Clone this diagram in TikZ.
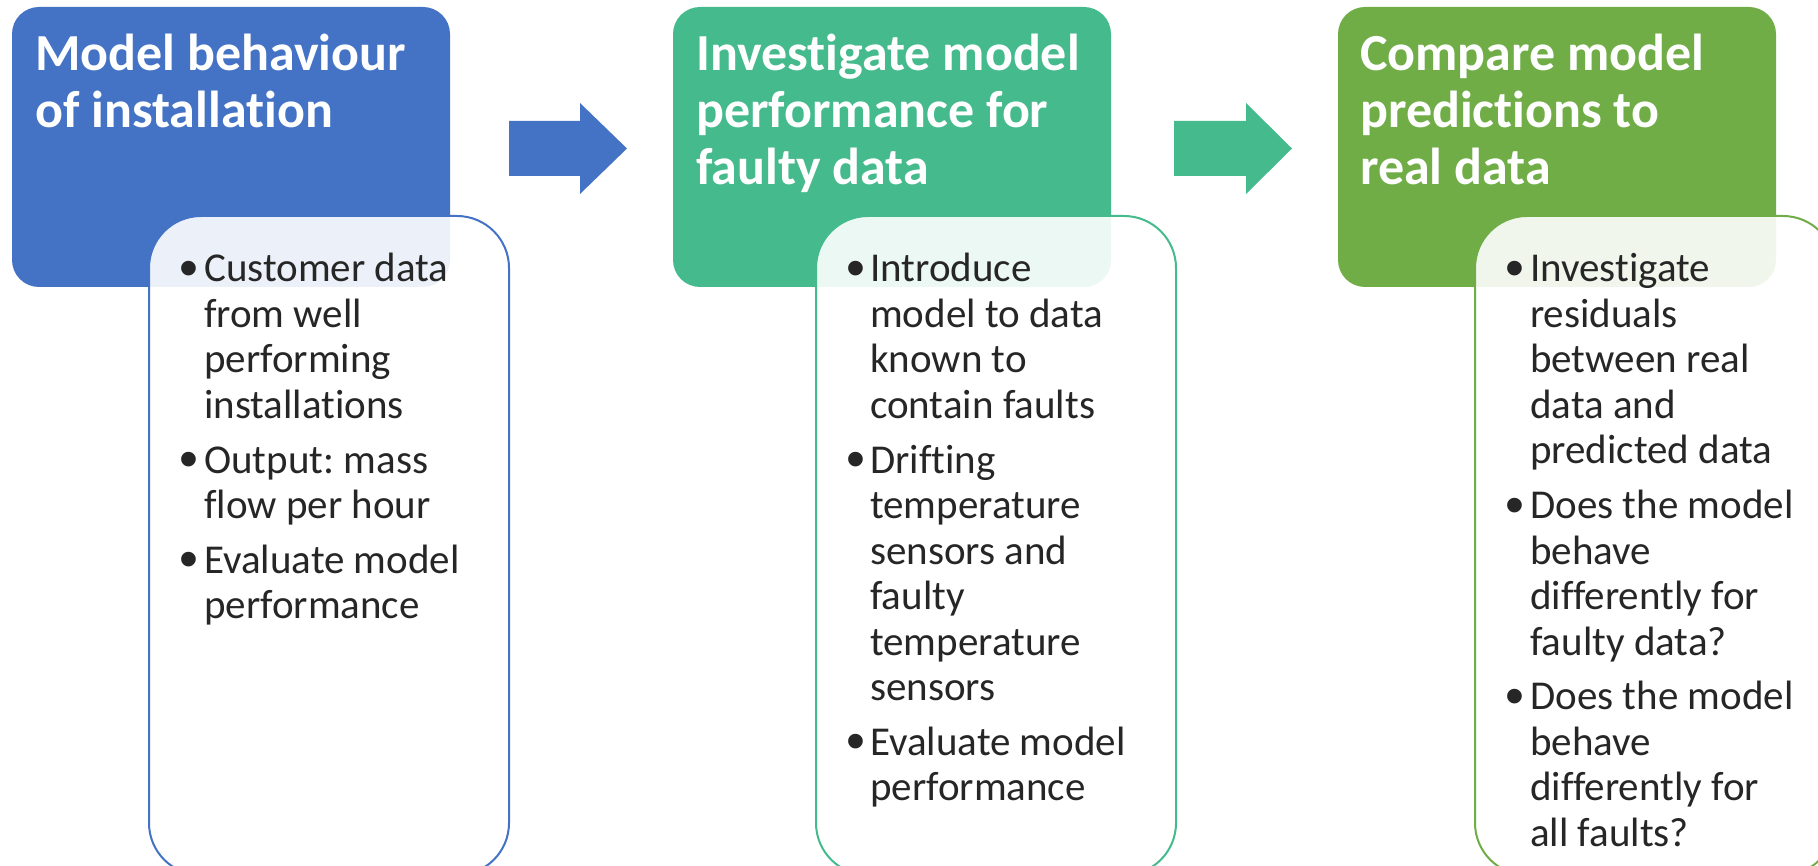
\documentclass[tikz,border=0pt]{standalone}
\usepackage{fontspec}
\setmainfont[Ligatures=NoCommon, Contextuals=NoAlternate, RawFeature=-clig]{Carlito}
\newfontfamily\dotfont{Liberation Sans}
\frenchspacing
\definecolor{cblue}{HTML}{4472C4}
\definecolor{cteal}{HTML}{45BA8D}
\definecolor{cgreen}{HTML}{70AD47}
\definecolor{ink}{HTML}{262626}
\tikzset{
  headbox/.style={rounded corners=27pt, minimum width=438pt, minimum height=280pt, inner sep=0pt},
  listbox/.style={rounded corners=52pt, minimum width=360pt, minimum height=659pt, inner sep=0pt,
    line width=2pt, fill=white, fill opacity=0.9},
  headtxt/.style={font=\fontsize{52}{57}\selectfont\bfseries, text=white, anchor=base west, inner sep=0pt},
  txt/.style={font=\fontsize{41}{45.5}\selectfont, text=ink, anchor=base west, inner sep=0pt},
  dot/.style={font=\dotfont\fontsize{54}{54}\selectfont, text=ink, anchor=base west, inner sep=0pt, yshift=-4.5pt},
}
\newcommand\putline[4]{\node[txt] (#1) at (#2,#3) {#4};}
\newcommand\putdot[3]{\node[dot] (#1) at (#2,#3) {•};}
\begin{document}
\begin{tikzpicture}[x=1pt,y=-1pt]
\useasboundingbox (0,0) rectangle (1818,866);
\clip (0,0) rectangle (1818,866);

% heading boxes
\node[headbox, fill=cblue]  (head1) at (231,147)  {};
\node[headbox, fill=cteal]  (head2) at (892,147)  {};
\node[headbox, fill=cgreen] (head3) at (1557,147) {};

% block arrows between the stages
\coordinate (a1) at (509,121);
\fill[cblue] (a1) -- ++(71,0) -- ++(0,-18) -- ++(47,45.5) -- ++(-47,45.5) -- ++(0,-18) -- ++(-71,0) -- cycle;
\coordinate (a2) at (1174,121);
\fill[cteal] (a2) -- ++(72,0) -- ++(0,-18) -- ++(46,45.5) -- ++(-46,45.5) -- ++(0,-18) -- ++(-72,0) -- cycle;

% heading texts
\node[headtxt] (h1a) at (35,71)  {Model behaviour};
\node[headtxt] (h1b) at (35,128) {of installation};
\node[headtxt] (h2a) at (696,71)  {Investigate model};
\node[headtxt] (h2b) at (696,128) {performance for};
\node[headtxt] (h2c) at (696,185) {faulty data};
\node[headtxt] (h3a) at (1360,71)  {Compare model};
\node[headtxt] (h3b) at (1360,128) {predictions to};
\node[headtxt] (h3c) at (1360,185) {real data};

% bullet boxes
\node[listbox, draw=cblue]  (list1) at (329,545.5)  {};
\node[listbox, draw=cteal]  (list2) at (996,545.5)  {};
\node[listbox, draw=cgreen] (list3) at (1655,545.5) {};

% first list
\putdot{d1a}{179}{282}
\putline{l1a}{204}{282}{Customer data}
\putline{l1b}{204}{327.5}{from well}
\putline{l1c}{204}{373}{performing}
\putline{l1d}{204}{418.5}{installations}
\putdot{d1b}{179}{473}
\putline{l1e}{204}{473}{Output: mass}
\putline{l1f}{204}{518.5}{flow per hour}
\putdot{d1c}{179}{573}
\putline{l1g}{204}{573}{Evaluate model}
\putline{l1h}{204}{618.5}{performance}

% second list
\putdot{d2a}{846}{282}
\putline{l2a}{870}{282}{Introduce}
\putline{l2b}{870}{327.5}{model to data}
\putline{l2c}{870}{373}{known to}
\putline{l2d}{870}{418.5}{contain faults}
\putdot{d2b}{846}{473}
\putline{l2e}{870}{473}{Drifting}
\putline{l2f}{870}{518.5}{temperature}
\putline{l2g}{870}{564}{sensors and}
\putline{l2h}{870}{609.5}{faulty}
\putline{l2i}{870}{655}{temperature}
\putline{l2j}{870}{700.5}{sensors}
\putdot{d2c}{846}{755}
\putline{l2k}{870}{755}{Evaluate model}
\putline{l2l}{870}{800.5}{performance}

% third list
\putdot{d3a}{1505}{282}
\putline{l3a}{1530}{282}{Investigate}
\putline{l3b}{1530}{327.5}{residuals}
\putline{l3c}{1530}{373}{between real}
\putline{l3d}{1530}{418.5}{data and}
\putline{l3e}{1530}{464}{predicted data}
\putdot{d3b}{1505}{518.5}
\putline{l3f}{1530}{518.5}{Does the model}
\putline{l3g}{1530}{564}{behave}
\putline{l3h}{1530}{609.5}{differently for}
\putline{l3i}{1530}{655}{faulty data?}
\putdot{d3c}{1505}{709.5}
\putline{l3j}{1530}{709.5}{Does the model}
\putline{l3k}{1530}{755}{behave}
\putline{l3l}{1530}{800.5}{differently for}
\putline{l3m}{1530}{846}{all faults?}
\end{tikzpicture}
\end{document}
